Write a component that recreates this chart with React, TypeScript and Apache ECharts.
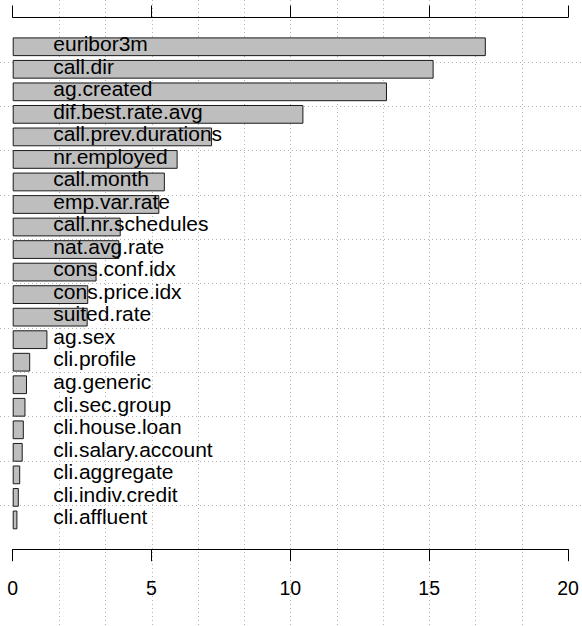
import React, { useEffect, useRef } from "react";
import * as echarts from "echarts";

const categories = [
  "euribor3m", "call.dir", "ag.created", "dif.best.rate.avg", "call.prev.durations",
  "nr.employed", "call.month", "emp.var.rate", "call.nr.schedules", "nat.avg.rate",
  "cons.conf.idx", "cons.price.idx", "suited.rate", "ag.sex", "cli.profile",
  "ag.generic", "cli.sec.group", "cli.house.loan", "cli.salary.account",
  "cli.aggregate", "cli.indiv.credit", "cli.affluent",
];
const values = [
  17.04, 15.16, 13.48, 10.47, 7.18, 5.94, 5.48, 5.28, 3.89, 3.84, 3.02, 2.72, 2.7,
  1.25, 0.63, 0.515, 0.46, 0.4, 0.36, 0.27, 0.22, 0.17,
];
const xTicks = [0, 5, 10, 15, 20];

const FONT = "'Liberation Sans', Arial, Helvetica, sans-serif";

export default function App() {
  const ref = useRef<HTMLDivElement>(null);
  useEffect(() => {
    document.body.style.margin = "0";
    const el = ref.current!;
    const chart = echarts.init(el, null, { renderer: "svg" });
    const axisOffset = 18;
    const baseAxis = {
      type: "value" as const,
      min: xTicks[0],
      max: xTicks[xTicks.length - 1],
      interval: 5,
      offset: axisOffset,
      axisLine: { show: true, lineStyle: { color: "#000", width: 1 } },
      axisTick: { show: true, length: 12, inside: false, lineStyle: { color: "#000", width: 1 } },
      splitLine: { show: false },
    };
    chart.setOption({
      animation: false,
      grid: { left: 12.7, right: 14, top: 35.5, bottom: 94.8, containLabel: false },
      xAxis: [
        {
          ...baseAxis,
          position: "bottom",
          axisLabel: {
            show: true,
            color: "#000",
            fontSize: 19.5,
            fontFamily: FONT,
            margin: 29,
            showMinLabel: true,
            showMaxLabel: true,
          },
        },
        { ...baseAxis, position: "top", axisLabel: { show: false } },
      ],
      yAxis: {
        type: "category",
        data: categories,
        inverse: true,
        show: false,
      },
      series: [
        {
          type: "bar",
          data: values,
          xAxisIndex: 0,
          barCategoryGap: "16.8%",
          itemStyle: { color: "#BEBEBE", borderColor: "#1a1a1a", borderWidth: 1 },
          z: 2,
        },
      ],
    });

    const W = chart.getWidth();
    const H = chart.getHeight();
    const x0 = chart.convertToPixel({ xAxisIndex: 0 }, 0) as number;
    const yc = categories.map((c) => chart.convertToPixel({ yAxisIndex: 0 }, c) as number);
    const pitch = (yc[yc.length - 1] - yc[0]) / (yc.length - 1);
    const topY = yc[0] - pitch / 2 - axisOffset;
    const bottomY = yc[yc.length - 1] + pitch / 2 + axisOffset;
    const gridStyle = { stroke: "#b4b4b4", lineWidth: 1, lineDash: [1, 3] };
    const graphics: any[] = [];
    for (let k = 1; k < 12; k++) {
      const x = Math.round(chart.convertToPixel({ xAxisIndex: 0 }, (k * 20) / 12) as number) + 0.5;
      graphics.push({ type: "line", z: -1, silent: true, shape: { x1: x, y1: 0, x2: x, y2: H }, style: gridStyle });
      const y = Math.round(topY + (k * (bottomY - topY)) / 12) + 0.5;
      graphics.push({ type: "line", z: -1, silent: true, shape: { x1: 0, y1: y, x2: W, y2: y }, style: gridStyle });
    }
    categories.forEach((c, i) => {
      graphics.push({
        type: "text",
        z: 10,
        silent: true,
        x: x0 + 40.6,
        y: yc[i] - 2.5,
        scaleX: 1.077,
        style: {
          text: c,
          fontSize: 19.5,
          fontFamily: FONT,
          fill: "#000",
          verticalAlign: "middle",
          align: "left",
        },
      });
    });
    chart.setOption({ graphic: graphics });
    return () => chart.dispose();
  }, []);
  return <div ref={ref} style={{ width: 582, height: 626, background: "#fff" }} />;
}
